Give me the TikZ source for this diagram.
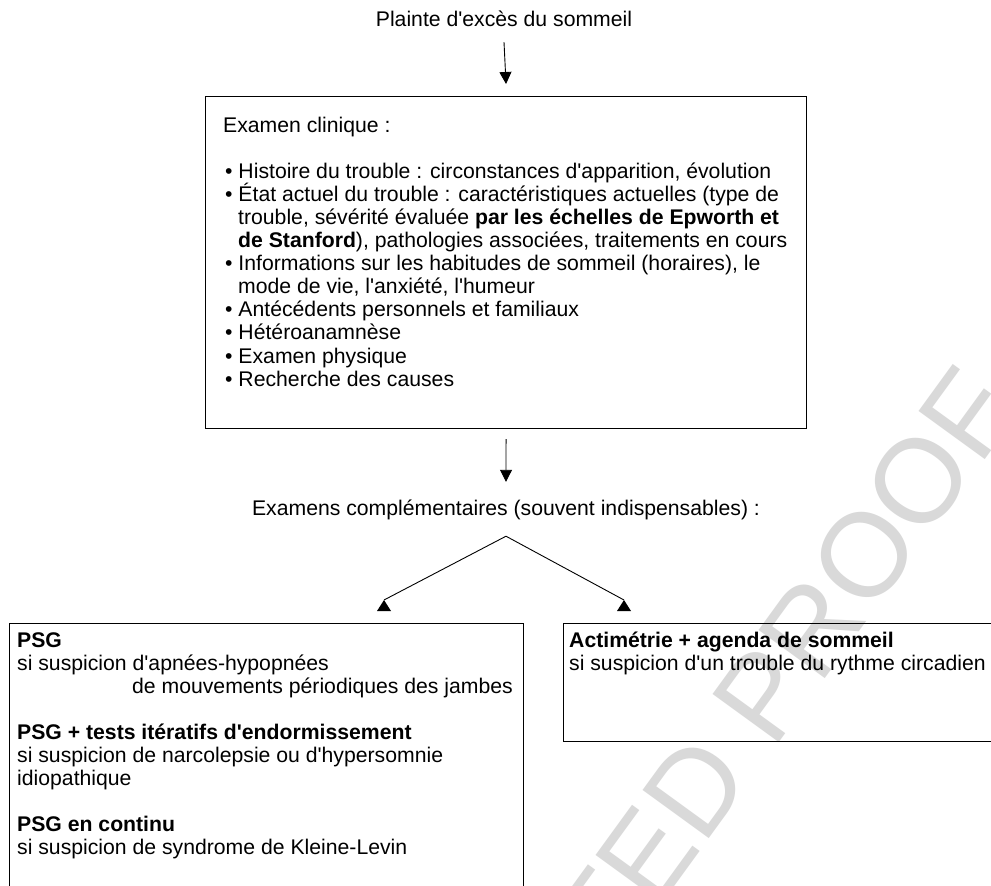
\documentclass[tikz,border=0pt]{standalone}
\usepackage{fontspec}
\newfontfamily\df{Liberation Sans}
\newfontfamily\wmfont{Liberation Sans}
\usetikzlibrary{arrows.meta}
\begin{document}
\begin{tikzpicture}[x=1pt,y=-1pt,
  txt/.style={inner sep=0pt, anchor=base west, font=\df\fontsize{21.2}{23}\selectfont},
  ctr/.style={inner sep=0pt, anchor=base, text height=15pt, text depth=4pt, font=\df\fontsize{21.2}{23}\selectfont},
  boxl/.style={draw, line width=1.1pt, inner sep=0pt, anchor=north west},
  arr/.style={line width=0.9pt, -{Triangle[width=12pt,length=12pt]}},
  conn/.style={line width=0.9pt},
  uphead/.style={fill=black},
  wm/.style={rotate=54, anchor=base east, inner sep=0pt, text=black!15, font=\wmfont\fontsize{119}{119}\selectfont}]
\useasboundingbox (0,0) rectangle (991,886);
\fill[white] (0,0) rectangle (991,886);
\begin{scope}
\clip (0,0) rectangle (991,886);
% watermark
\node[wm] (wmark) at (1022,408) {UNCORRECTED PROOF};
% title
\node[ctr] (title) at (504,26) {Plainte d'excès du sommeil};
% clinical box
\node[boxl, minimum width=601pt, minimum height=332pt] (box1) at (205,96) {};
\node[txt] (ec) at (223,132) {Examen clinique :};
\node[txt] (b1) at (225,178.2) {• Histoire du trouble : circonstances d'apparition, évolution};
\node[txt] (b2) at (225,201.3) {• État actuel du trouble : caractéristiques actuelles (type de};
\node[txt] (b2a) at (238,224.4) {trouble, sévérité évaluée \textbf{par les échelles de Epworth et}};
\node[txt] (b2b) at (238,247.5) {\textbf{de Stanford}), pathologies associées, traitements en cours};
\node[txt] (b3) at (225,270.6) {• Informations sur les habitudes de sommeil (horaires), le};
\node[txt] (b3a) at (238,293.7) {mode de vie, l'anxiété, l'humeur};
\node[txt] (b4) at (225,316.8) {• Antécédents personnels et familiaux};
\node[txt] (b5) at (225,339.9) {• Hétéroanamnèse};
\node[txt] (b6) at (225,363) {• Examen physique};
\node[txt] (b7) at (225,386.1) {• Recherche des causes};
% complementary exams
\node[ctr] (exam) at (506,515) {Examens complémentaires (souvent indispensables) :};
\coordinate (apex) at ([yshift=-17pt]exam.south);
\coordinate (hl) at (384,600);
\coordinate (hr) at (624,600);
% lower boxes
\node[boxl, minimum width=514pt, minimum height=320pt] (psg) at (9,623) {};
\node[boxl, minimum width=460pt, minimum height=118pt] (acti) at (563,623) {};
\node[txt] (p1) at (17,647) {\textbf{PSG}};
\node[txt] (p2) at (17,670.1) {si suspicion d'apnées-hypopnées};
\node[txt] (p3) at (132,693.2) {de mouvements périodiques des jambes};
\node[txt] (p4) at (17,739.4) {\textbf{PSG + tests itératifs d'endormissement}};
\node[txt] (p5) at (17,762.5) {si suspicion de narcolepsie ou d'hypersomnie};
\node[txt] (p6) at (17,785.6) {idiopathique};
\node[txt] (p7) at (17,831.8) {\textbf{PSG en continu}};
\node[txt] (p8) at (17,854.9) {si suspicion de syndrome de Kleine-Levin};
\node[txt] (a1) at (569,647) {\textbf{Actimétrie + agenda de sommeil}};
\node[txt] (a2) at (569,670.5) {si suspicion d'un trouble du rythme circadien};
% connectors
\draw[arr] ([yshift=-12pt]title.south) -- ([yshift=12pt]box1.north);
\draw[arr] ([yshift=-10pt]box1.south) -- ([yshift=18pt]exam.north);
\draw[conn] (apex) -- (hl);
\draw[conn] (apex) -- (hr);
\fill[uphead] (hl) -- ++(-7,11) -- ++(14,0) -- cycle;
\fill[uphead] (hr) -- ++(-7,11) -- ++(14,0) -- cycle;
\end{scope}
\end{tikzpicture}
\end{document}
